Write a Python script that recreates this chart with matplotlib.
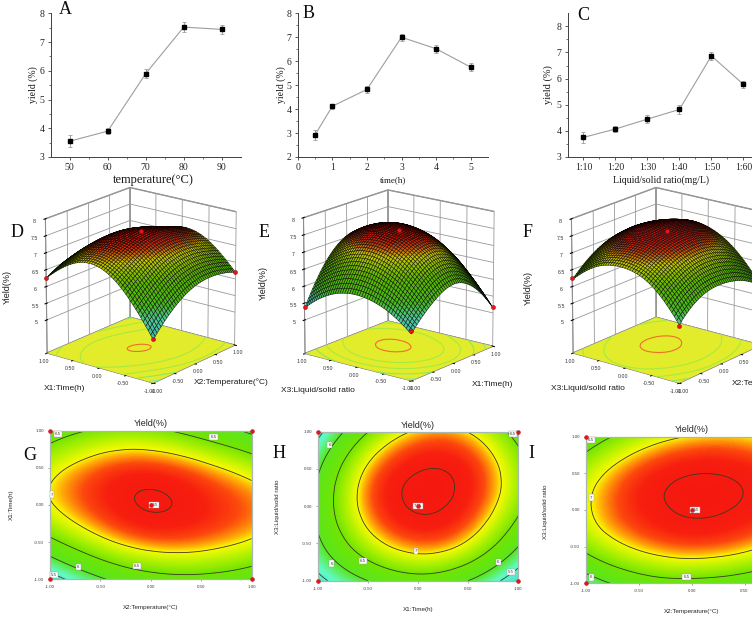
import numpy as np
import matplotlib
matplotlib.use('Agg')
import matplotlib.pyplot as plt
import matplotlib.tri as mtri
from matplotlib.colors import LinearSegmentedColormap, Normalize
from matplotlib.patches import Rectangle

W, H = 756, 620

# line charts
temp = [50, 60, 70, 80, 90]
temp_yield = [3.55, 3.9, 5.9, 7.52, 7.44]
temp_err = [0.2, 0.1, 0.15, 0.17, 0.16]

time_h = [0.5, 1, 2, 3, 4, 5]
time_yield = [2.92, 4.12, 4.82, 7.0, 6.52, 5.75]
time_err = [0.2, 0.1, 0.15, 0.15, 0.17, 0.17]

ratio_labels = ['1:10', '1:20', '1:30', '1:40', '1:50', '1:60']
ratio_yield = [3.75, 4.07, 4.45, 4.82, 6.87, 5.78]
ratio_err = [0.2, 0.1, 0.15, 0.17, 0.16, 0.13]

# response surfaces, rows are y = -1..1, columns x = -1..1
coded = [-1, -0.5, 0, 0.5, 1]
yield_x2_x1 = [[5.27, 5.94, 6.31, 6.37, 6.20],
               [6.38, 6.89, 7.17, 7.15, 6.95],
               [6.97, 7.33, 7.52, 7.40, 7.18],
               [6.87, 7.20, 7.30, 7.11, 6.80],
               [6.25, 6.56, 6.58, 6.30, 5.90]]
yield_x1_x3 = [[5.35, 6.00, 6.31, 6.00, 5.15],
               [5.90, 6.81, 7.19, 6.94, 6.06],
               [6.10, 7.16, 7.53, 7.35, 6.60],
               [5.93, 7.05, 7.48, 7.37, 6.68],
               [5.35, 6.49, 7.05, 6.99, 6.30]]
yield_x2_x3 = [[5.70, 6.24, 6.36, 6.21, 5.78],
               [6.62, 7.06, 7.22, 7.10, 6.71],
               [6.94, 7.37, 7.53, 7.46, 7.18],
               [6.80, 7.28, 7.49, 7.44, 7.20],
               [6.20, 6.75, 7.02, 7.02, 6.75]]
levels = [5.5, 6, 6.5, 7, 7.5]

# design points x, y, z
points_d = [[-1, 1, 6.25], [-1, -1, 5.3], [1, -1, 6.2], [0, 0, 7.55]]
points_e = [[-1, 1, 5.38], [-1, -1, 5.44], [1, -1, 5.17], [0, 0, 7.55]]
points_f = [[-1, 1, 6.25], [-1, -1, 5.66], [1, -1, 5.8], [0, 0, 7.55]]

labels_g = [(-0.92, 0.96, '6.5'), (0.62, 0.92, '6.5'), (-0.98, 0.14, '7'), (0.03, 0, '7.55'),
            (-0.72, -0.83, '6'), (-0.14, -0.82, '6.5'), (-0.96, -0.94, '5.5')]
labels_h = [(-0.88, 0.82, '6'), (0.95, 0.97, '6.5'), (0, 0, '7.55'), (-0.02, -0.6, '7'),
            (-0.86, -0.77, '6'), (-0.55, -0.74, '6.5'), (0.8, -0.75, '6'), (0.93, -0.88, '5.5')]
labels_i = [(-0.95, 0.95, '6.5'), (-0.95, 0.17, '7'), (0.03, 0, '7.55'),
            (-0.95, -0.92, '6'), (-0.05, -0.91, '6.5')]

SERIF = ['Liberation Serif', 'DejaVu Serif']
SANS = ['Liberation Sans', 'DejaVu Sans']

cmap = LinearSegmentedColormap.from_list('rsm', [
    (0.0, (0.25, 0.85, 0.85)),
    (0.23, (0.38, 0.98, 0.78)),
    (0.38, (0.35, 0.90, 0.12)),
    (0.58, (0.45, 0.90, 0.0)),
    (0.69, (0.72, 0.95, 0.0)),
    (0.77, (0.98, 0.98, 0.0)),
    (0.81, (1.0, 0.66, 0.03)),
    (0.865, (0.99, 0.28, 0.05)),
    (0.92, (0.97, 0.12, 0.06)),
    (1.0, (0.96, 0.09, 0.06))])
norm = Normalize(5.0, 7.6)


def px_rect(l, t, r, b):
    return [l / W, 1 - b / H, (r - l) / W, (b - t) / H]


def put(x, y, s, **kw):
    fig.text(x / W, 1 - y / H, s, ha='center', va='center', **kw)


def fine_grid(values, n=60):
    # the library's cubic interpolator gives the smooth surface from the read grid
    gx, gy = np.meshgrid(coded, coded)
    tri = mtri.Triangulation(gx.ravel(), gy.ravel())
    interp = mtri.CubicTriInterpolator(tri, np.array(values, dtype=float).ravel(), kind='min_E')
    s = np.linspace(-0.9999, 0.9999, n)
    xx, yy = np.meshgrid(s, s)
    return xx, yy, np.ma.filled(interp(xx, yy), 5.0)


def line_panel(rect, x, y, err, xlim, ylim, xticks, yticks, xminor, yminor):
    ax = fig.add_axes(px_rect(*rect))
    ax.errorbar(x, y, yerr=err, color='0.62', lw=0.8, elinewidth=0.7, capsize=1.5, capthick=0.6,
                marker='s', ms=3.2, mfc='k', mec='k', zorder=3)
    ax.set_xlim(xlim)
    ax.set_ylim(ylim)
    ax.set_xticks(xticks)
    ax.set_yticks(yticks)
    ax.set_xticks(xminor, minor=True)
    ax.set_yticks(yminor, minor=True)
    ax.spines[['top', 'right']].set_visible(False)
    ax.spines[['left', 'bottom']].set_linewidth(0.7)
    ax.spines[['left', 'bottom']].set_color('0.25')
    ax.tick_params(length=2.5, width=0.6, labelsize=7, pad=2, color='0.25', labelcolor='0.15')
    ax.tick_params(which='minor', length=1.3, width=0.5, color='0.25')
    for t in ax.get_xticklabels() + ax.get_yticklabels():
        t.set_family(SERIF)
    return ax


def surface_panel(rect, values, points, elev, azim):
    ax = fig.add_axes(px_rect(*rect), projection='3d')
    ax.patch.set_alpha(0)
    ax.computed_zorder = False
    ax.set_proj_type('persp', focal_length=2)
    ax.view_init(elev=elev, azim=azim)
    ax.set_box_aspect((1, 1, 1.05), zoom=0.96)
    xx, yy, zz = fine_grid(values, 45)
    ax.plot_surface(np.array([[-1, 1], [-1, 1]]), np.array([[-1, -1], [1, 1]]), np.full((2, 2), 4.0),
                    color='#E3EC2A', shade=False, zorder=1)
    for lev, col in zip(levels, ['#7FE8A0', '#8CE860', '#A6EA40', '#A6EA40', '#EE7028']):
        ax.contour(xx, yy, zz, levels=[lev], zdir='z', offset=4, colors=col, linewidths=0.8, zorder=2)
    faces = cmap(norm(zz))
    faces[:, :, :3] *= 0.8
    ax.plot_surface(xx, yy, zz, rcount=45, ccount=45, facecolors=faces, edgecolor=(0, 0, 0, 0.9),
                    linewidth=0.35, shade=False, zorder=3)
    pts = np.array(points)
    ax.scatter(pts[:, 0], pts[:, 1], pts[:, 2], s=9, c='#E8141C', edgecolors='#801010', linewidths=0.3,
               depthshade=False, zorder=5)
    ax.set_xlim(-1, 1, view_margin=0)
    ax.set_ylim(-1, 1, view_margin=0)
    ax.set_zlim(4, 8, view_margin=0)
    ax.set_xticks(coded)
    ax.set_yticks(coded)
    ax.set_zticks([5, 5.5, 6, 6.5, 7, 7.5, 8])
    ax.set_xticklabels(['%.2f' % c for c in coded])
    ax.set_yticklabels(['%.2f' % c for c in coded])
    ax.set_zticklabels(['5', '5.5', '6', '6.5', '7', '7.5', '8'])
    ax.tick_params(labelsize=3.8, length=0, labelcolor='0.2')
    ax.tick_params(axis='x', pad=-5)
    ax.tick_params(axis='y', pad=-5)
    ax.tick_params(axis='z', pad=-3)
    ax.zaxis.set_ticks_position('upper')
    for axis in (ax.xaxis, ax.yaxis, ax.zaxis):
        axis.set_pane_color('white')
        axis.pane.set_edgecolor('0.55')
        axis._axinfo['grid'].update(color='0.6', linewidth=0.6)
        axis.line.set_color('0.55')
        for t in axis.get_ticklabels():
            t.set_family(SANS)
    return ax


def contour_panel(rect, values, labels):
    ax = fig.add_axes(px_rect(*rect))
    xx, yy, zz = fine_grid(values, 200)
    ax.imshow(zz, extent=(-1, 1, -1, 1), origin='lower', cmap=cmap, norm=norm, aspect='auto', interpolation='bilinear')
    ax.contour(xx, yy, zz, levels=levels, colors='#3A3A20', linewidths=0.6)
    for x, y, s in labels:
        ax.text(x, y, s, fontsize=3.2, ha='center', va='center', family=SANS, color='0.2', zorder=6,
                bbox=dict(boxstyle='square,pad=0.25', fc='white', ec='0.6', lw=0.3))
    ax.plot([-1, -1, 1, 1, 0], [-1, 1, -1, 1, 0], ls='', marker='o', ms=2.8, mfc='#E8141C', mec='#A01010',
            mew=0.3, clip_on=False, zorder=7)
    ax.set_xlim(-1, 1)
    ax.set_ylim(-1, 1)
    ax.set_xticks(coded)
    ax.set_yticks(coded)
    ax.set_xticklabels(['%.2f' % c for c in coded])
    ax.set_yticklabels(['%.2f' % c for c in coded])
    ax.tick_params(labelsize=3.2, length=1.2, width=0.4, pad=3, labelcolor='0.25', color='0.4')
    for t in ax.get_xticklabels() + ax.get_yticklabels():
        t.set_family(SANS)
    for s in ax.spines.values():
        s.set_color('#A8B8B0')
        s.set_linewidth(0.9)
    return ax


fig = plt.figure(figsize=(W / 100, H / 100), dpi=100, facecolor='white')

# A, B, C
line_panel((50.7, 13.3, 240.7, 157), temp, temp_yield, temp_err, (45, 95), (3, 8),
           temp, range(3, 9), [55, 65, 75, 85], np.arange(3.5, 8, 1))
line_panel((297.7, 13.3, 488, 157), time_h, time_yield, time_err, (0, 5.5), (2, 8),
           range(0, 6), range(2, 9), [0.5, 1.5, 2.5, 3.5, 4.5], np.arange(2.5, 8, 1))
ax_c = line_panel((567.7, 13.3, 759.7, 157), range(6), ratio_yield, ratio_err, (-0.49, 5.51), (3, 8.5),
                  range(6), range(3, 9), [0.5, 1.5, 2.5, 3.5, 4.5], np.arange(3.5, 8.5, 1))
ax_c.set_xticklabels(ratio_labels, family=SERIF)

put(153, 180, 'temperature(°C)', family=SERIF, fontsize=9, color='0.1')
put(33, 85, 'yield (%)', family=SERIF, fontsize=7, rotation=90, color='0.1')
put(393, 180, 'time(h)', family=SERIF, fontsize=6.5, color='0.1')
put(281, 85, 'yield (%)', family=SERIF, fontsize=7, rotation=90, color='0.1')
put(661, 180, 'Liquid/solid ratio(mg/L)', family=SERIF, fontsize=7, color='0.1')
put(548, 85, 'yield (%)', family=SERIF, fontsize=7.5, rotation=90, color='0.1')

# D, E, F
surface_panel((18, 166, 258, 406), yield_x2_x1, points_d, 19, -142)
surface_panel((276, 166, 516, 406), yield_x1_x3, points_e, 17, -142)
surface_panel((544, 166, 784, 406), yield_x2_x3, points_f, 19, -142)

put(64, 389, 'X1:Time(h)', family=SANS, fontsize=6, color='0.1')
put(231, 382, 'X2:Temperature(°C)', family=SANS, fontsize=6, color='0.1')
put(7, 287, 'Yield(%)', family=SANS, fontsize=6.5, rotation=90, color='0.1')
put(318, 391, 'X3:Liquid/solid ratio', family=SANS, fontsize=6, color='0.1')
put(493, 384, 'X1:Time(h)', family=SANS, fontsize=6, color='0.1')
put(263, 283, 'Yield(%)', family=SANS, fontsize=6.5, rotation=90, color='0.1')
put(588, 389, 'X3:Liquid/solid ratio', family=SANS, fontsize=6, color='0.1')
put(769, 383, 'X2:Temperature(°C)', family=SANS, fontsize=6, color='0.1')
put(528, 288, 'Yield(%)', family=SANS, fontsize=6.5, rotation=90, color='0.1')

# G, H, I
contour_panel((50, 430.7, 251.7, 579.3), yield_x2_x1, labels_g)
contour_panel((317.7, 431.7, 518.3, 580.7), yield_x1_x3, labels_h)
contour_panel((586, 436.7, 797.4, 583.3), yield_x2_x3, labels_i)

put(151, 424, 'Yield(%)', family=SANS, fontsize=6.5, color='0.15')
put(418, 425, 'Yield(%)', family=SANS, fontsize=6.5, color='0.15')
put(692, 430, 'Yield(%)', family=SANS, fontsize=6.5, color='0.15')
put(11, 505, 'X1:Time(h)', family=SANS, fontsize=4.5, rotation=90, color='0.15')
put(151, 608, 'X2:Temperature(°C)', family=SANS, fontsize=4.5, color='0.15')
put(278, 507, 'X3:Liquid/solid ratio', family=SANS, fontsize=4.5, rotation=90, color='0.15')
put(418, 609, 'X1:Time(h)', family=SANS, fontsize=4.5, color='0.15')
put(545, 512, 'X3:Liquid/solid ratio', family=SANS, fontsize=4.5, rotation=90, color='0.15')
put(692, 612, 'X2:Temperature(°C)', family=SANS, fontsize=4.5, color='0.15')

for s, x, y in [('A', 65, 10), ('B', 309, 13), ('C', 583, 15), ('D', 17, 232), ('E', 264, 232),
                ('F', 528, 232), ('G', 30, 455), ('H', 279, 454), ('I', 531, 454)]:
    put(x, y, s, family=SERIF, fontsize=13, color='0.05')

# the picture stops a few pixels short of the right edge
fig.add_artist(Rectangle((752 / W, 0), 4 / W, 1, transform=fig.transFigure, fc='white', ec='none', zorder=50))

fig.savefig('out.png', dpi=100)
